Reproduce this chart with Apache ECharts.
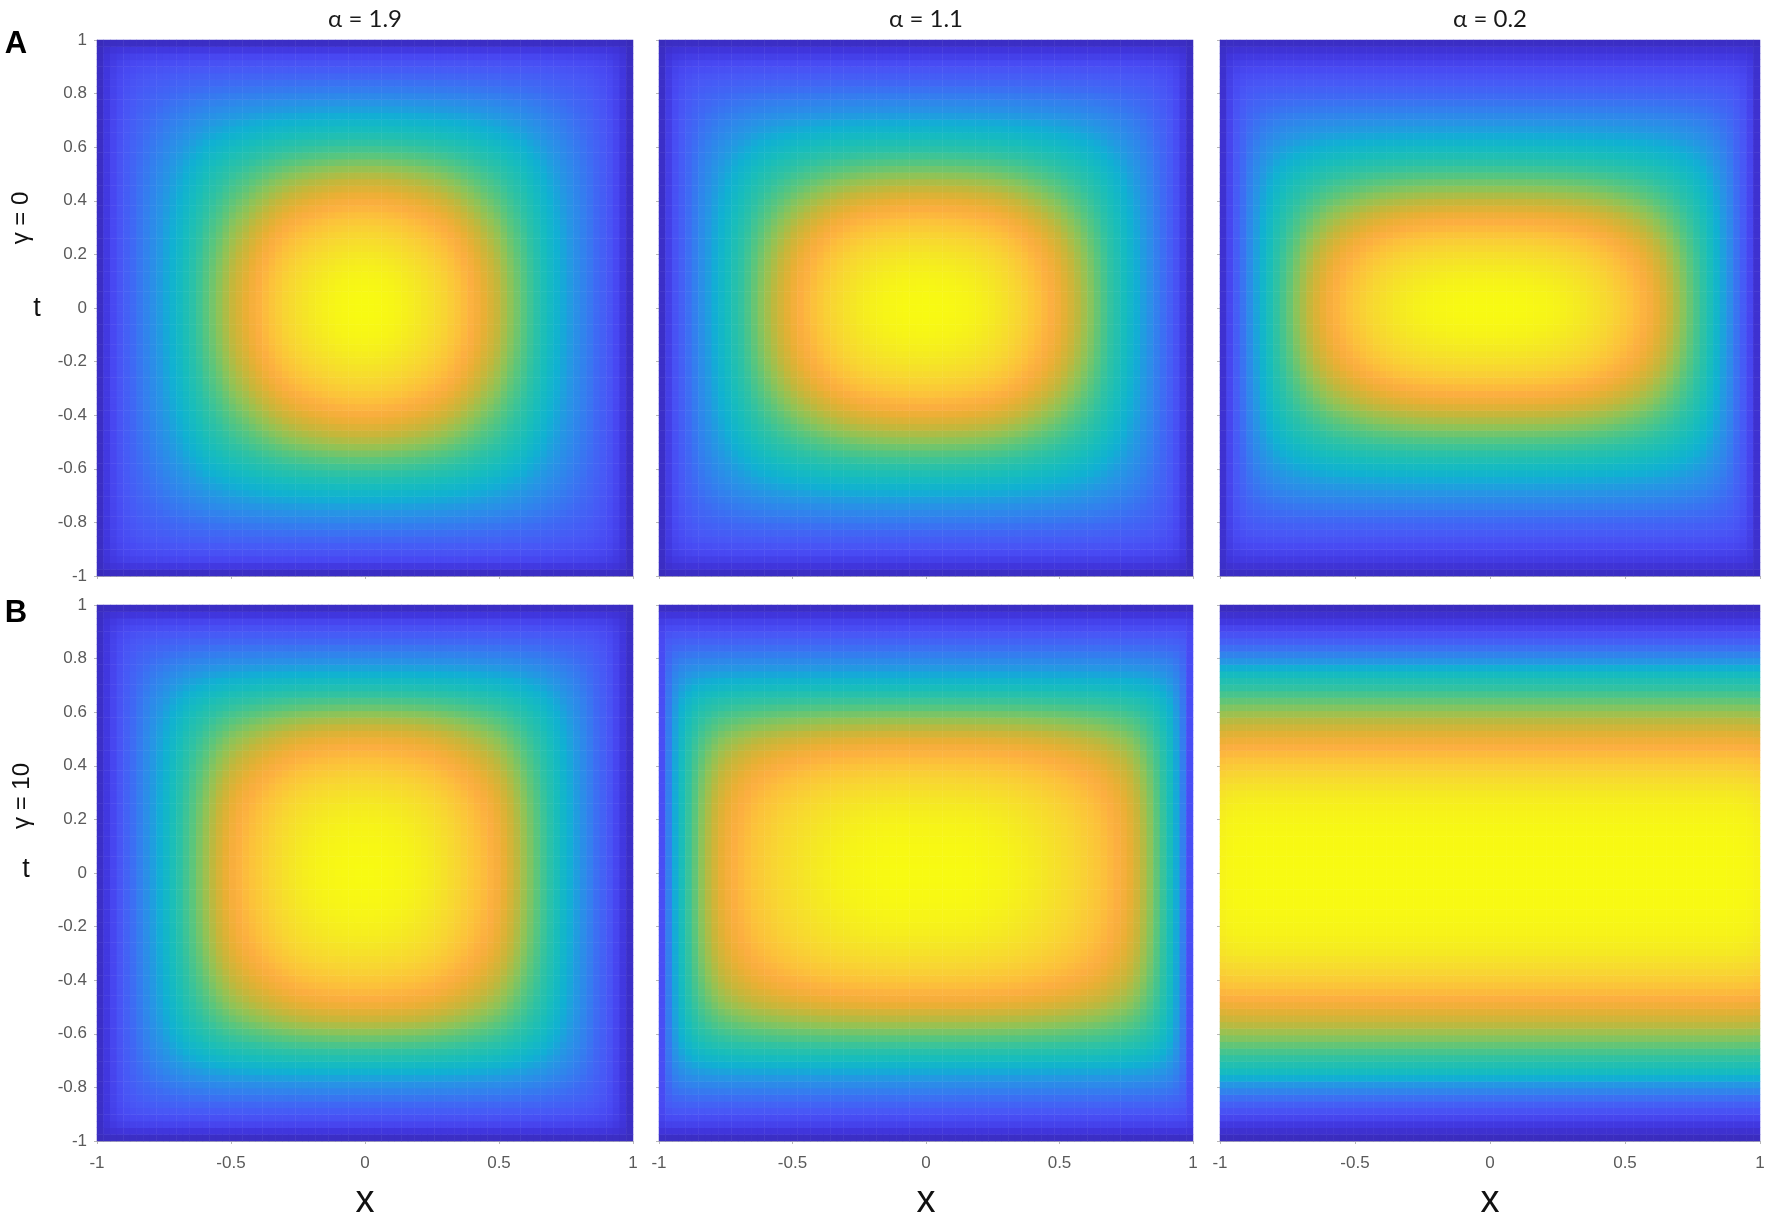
<!DOCTYPE html>
<html><head><meta charset="utf-8">
<script src="https://cdn.jsdelivr.net/npm/echarts@6/dist/echarts.min.js"></script>
<style>html,body{margin:0;padding:0;background:#fff}#c{width:1772px;height:1219px}</style>
</head><body><div id="c"></div>
<script>
// ---- text ----
const alphaTitles = ['α = 1.9', 'α = 1.1', 'α = 0.2'];
const gammaLabels = ['γ = 0', 'γ = 10'];
const panelLetters = ['A', 'B'];
const xTickValues = [-1, -0.5, 0, 0.5, 1];
const tTickValues = [-1, -0.8, -0.6, -0.4, -0.2, 0, 0.2, 0.4, 0.6, 0.8, 1];

// ---- values ----
// normalised field value along the axes, sampled at |x| (or |t|) = 0, 0.025, 0.050, ... 1.000
const A1_x = [1.0,.999,.995,.988,.98,.968,.955,.94,.925,.908,.89,.87,.85,.825,.80,.775,.75,.725,.70,.678,.655,.628,.60,.575,.55,.52,.49,.462,.435,.41,.385,.36,.335,.31,.285,.255,.225,.19,.15,.105,.05];
const A1_t = [1.0,.999,.995,.988,.98,.968,.955,.938,.92,.9,.88,.858,.835,.81,.785,.76,.735,.71,.685,.66,.635,.608,.58,.553,.525,.498,.47,.445,.42,.395,.37,.345,.32,.295,.27,.243,.215,.185,.15,.105,.05];
const A2_x = [1.0,.999,.997,.993,.988,.982,.975,.966,.955,.943,.93,.913,.895,.875,.855,.833,.81,.788,.765,.743,.72,.695,.67,.645,.62,.593,.565,.535,.505,.478,.45,.423,.395,.365,.335,.30,.265,.225,.18,.12,.055];
const A2_t = [1.0,.998,.993,.985,.975,.963,.95,.933,.915,.893,.87,.845,.82,.793,.765,.738,.71,.683,.655,.628,.60,.573,.545,.518,.49,.465,.44,.415,.39,.365,.34,.318,.295,.27,.245,.218,.19,.16,.125,.09,.05];
const A3_x = [1.0,1.0,1.0,.999,.997,.994,.99,.985,.98,.973,.965,.955,.945,.933,.92,.905,.89,.873,.855,.835,.815,.795,.775,.753,.73,.705,.68,.653,.625,.595,.565,.533,.50,.46,.42,.375,.33,.275,.215,.145,.07];
const A3_t = [1.0,.997,.99,.978,.965,.948,.93,.908,.885,.858,.83,.80,.77,.743,.715,.685,.655,.628,.60,.573,.545,.518,.49,.465,.44,.415,.39,.368,.345,.323,.30,.278,.255,.233,.21,.185,.16,.135,.11,.08,.05];
const B1_x = [1.0,.999,.997,.993,.988,.982,.975,.966,.955,.943,.93,.913,.895,.875,.855,.835,.815,.795,.775,.753,.73,.703,.675,.645,.615,.585,.555,.523,.49,.458,.425,.395,.365,.333,.30,.265,.23,.19,.145,.10,.055];
const B1_t = [1.0,.999,.997,.993,.988,.982,.975,.966,.955,.943,.93,.913,.895,.875,.855,.833,.81,.788,.765,.74,.715,.688,.66,.63,.60,.568,.535,.503,.47,.438,.405,.373,.34,.31,.28,.248,.215,.178,.14,.095,.05];
const B2_x = [1.0,1.0,1.0,1.0,1.0,.999,.997,.994,.99,.985,.98,.974,.968,.961,.953,.944,.935,.924,.913,.902,.89,.878,.865,.85,.835,.82,.805,.785,.765,.745,.725,.70,.67,.637,.60,.558,.51,.455,.39,.30,.17];
const B2_t = [1.0,.999,.997,.994,.99,.984,.977,.968,.957,.944,.93,.912,.893,.873,.852,.829,.805,.78,.755,.728,.70,.67,.64,.61,.58,.548,.515,.483,.45,.418,.385,.355,.325,.295,.265,.233,.20,.165,.13,.09,.05];
const B3_x = [1,1,1,1,1,1,1,1,1,1,1,1,1,1,1,1,1,1,1,1,1,1,1,1,1,1,1,1,1,1,1,1,1,1,1,1,.997,.995,.992,.985,.97];
const B3_t = [1.0,1.0,1.0,.999,.997,.994,.99,.984,.977,.967,.955,.941,.925,.90,.875,.85,.825,.798,.77,.743,.715,.69,.665,.64,.615,.588,.56,.53,.50,.47,.44,.395,.35,.308,.265,.223,.18,.14,.10,.07,.04];

const panels = [
  {fx: A1_x, gt: A1_t, row: 0, col: 0},
  {fx: A2_x, gt: A2_t, row: 0, col: 1},
  {fx: A3_x, gt: A3_t, row: 0, col: 2},
  {fx: B1_x, gt: B1_t, row: 1, col: 0},
  {fx: B2_x, gt: B2_t, row: 1, col: 1},
  {fx: B3_x, gt: B3_t, row: 1, col: 2}
];

// ---- style ----
const colorStops = [
  [0.00,'#33279a'],[0.04,'#3a2cbf'],[0.09,'#4035dc'],[0.15,'#4848f2'],[0.20,'#4858f6'],
  [0.25,'#3f68f4'],[0.30,'#3380ee'],[0.35,'#2596e4'],[0.40,'#10b1d2'],[0.45,'#18bdbb'],
  [0.50,'#30c2a2'],[0.55,'#58c67e'],[0.60,'#90c356'],[0.65,'#c4b73a'],[0.70,'#eaaf34'],
  [0.74,'#fcae40'],[0.79,'#fcc23a'],[0.85,'#f8d532'],[0.91,'#f5e526'],[0.96,'#f6f21a'],[1.00,'#f8fa12']
];
const cornerExponent = [1.8, 2.0, 2.2, 2.2, 3.0, 3.0];
const colLeft = [97, 659, 1220], colWidth = [536, 534, 540];
const rowTop = [40, 605], rowHeight = 536;

function hex(c) { return [1, 3, 5].map(k => parseInt(c.substr(k, 2), 16)); }
function colorAt(v) {
  for (let k = 1; k < colorStops.length; k++) {
    if (v <= colorStops[k][0]) {
      const [p0, c0] = colorStops[k - 1], [p1, c1] = colorStops[k];
      const a = (v - p0) / (p1 - p0), A = hex(c0), B = hex(c1);
      return 'rgb(' + A.map((x, i) => Math.round(x + (B[i] - x) * a)).join(',') + ')';
    }
  }
  return colorStops[colorStops.length - 1][1];
}
const paletteSteps = [];
for (let i = 0; i <= 100; i++) paletteSteps.push(colorAt(i / 100));

const H = A1_x.length - 1;     // 40
const N = 2 * H + 1;           // 81 samples from -1 to 1
const cats = [];
for (let i = 0; i < N; i++) cats.push((-1 + i / H).toFixed(3));
function mirror(half) { const out = []; for (let i = 0; i < N; i++) out.push(half[Math.abs(i - H)]); return out; }
function combine(f, g, p) { return Math.pow(Math.pow(f, -p) + Math.pow(g, -p) - 1, -1 / p); }

const grid = [], xAxis = [], yAxis = [], series = [];
const tickFont = {color: '#5a5a5a', fontSize: 17, fontFamily: 'Liberation Sans'};
const edge = {color: '#b8b8b8', width: 1};
panels.forEach((p, k) => {
  grid.push({left: colLeft[p.col], top: rowTop[p.row], width: colWidth[p.col], height: rowHeight});
  xAxis.push({type: 'category', gridIndex: k, data: cats, show: false, position: 'top'});
  xAxis.push({type: 'value', gridIndex: k, min: -1, max: 1, interval: 0.5, position: 'bottom',
    axisLine: {show: true, lineStyle: edge},
    axisTick: {show: true, length: 3, lineStyle: edge},
    splitLine: {show: false},
    axisLabel: Object.assign({show: p.row === 1, margin: 14, formatter: v => String(+v.toFixed(1))}, tickFont)});
  yAxis.push({type: 'category', gridIndex: k, data: cats, show: false, position: 'right'});
  yAxis.push({type: 'value', gridIndex: k, min: -1, max: 1, interval: 0.2, position: 'left',
    axisLine: {show: true, lineStyle: edge},
    axisTick: {show: true, length: 3, lineStyle: edge},
    splitLine: {show: false},
    axisLabel: Object.assign({show: p.col === 0, margin: 10, formatter: v => String(+v.toFixed(1))}, tickFont)});
  const fx = mirror(p.fx), gt = mirror(p.gt);
  const data = [];
  for (let i = 0; i < N; i++) for (let j = 0; j < N; j++) data.push([i, j, combine(fx[i], gt[j], cornerExponent[k])]);
  series.push({type: 'heatmap', xAxisIndex: 2 * k, yAxisIndex: 2 * k, data: data, progressive: 0,
    itemStyle: {borderWidth: 0}, emphasis: {disabled: true}, silent: true});
});

const graphic = [];
alphaTitles.forEach((t, c) => graphic.push({type: 'text', x: colLeft[c] + colWidth[c] / 2, y: 19,
  style: {text: t, fontSize: 24, fontFamily: 'Lato', fill: '#1a1a1a', align: 'center', verticalAlign: 'middle'}}));
colLeft.forEach((l, c) => graphic.push({type: 'text', x: l + colWidth[c] / 2, y: 1202,
  style: {text: 'x', fontSize: 38, fontFamily: 'Liberation Sans', fill: '#111', align: 'center', verticalAlign: 'middle'}}));
const gammaPos = [[21, 218], [22, 796]];
const tPos = [[37, 309], [26, 870]];
const letterPos = [[16, 44], [16, 613]];
gammaLabels.forEach((g, r) => {
  graphic.push({type: 'text', x: gammaPos[r][0], y: gammaPos[r][1], rotation: Math.PI / 2,
    style: {text: g, fontSize: 24, fontFamily: 'Liberation Sans', fill: '#111', align: 'center', verticalAlign: 'middle'}});
  graphic.push({type: 'text', x: tPos[r][0], y: tPos[r][1],
    style: {text: 't', fontSize: 27, fontFamily: 'Liberation Sans', fill: '#111', align: 'center', verticalAlign: 'middle'}});
  graphic.push({type: 'text', x: letterPos[r][0], y: letterPos[r][1],
    style: {text: panelLetters[r], fontSize: 31, fontWeight: 'bold', fontFamily: 'Liberation Sans', fill: '#000', align: 'center', verticalAlign: 'middle'}});
});

const chart = echarts.init(document.getElementById('c'), null, {renderer: 'canvas'});
chart.setOption({
  animation: false,
  backgroundColor: '#ffffff',
  grid, xAxis, yAxis, series, graphic,
  visualMap: {show: false, type: 'continuous', min: 0, max: 1, dimension: 2,
    seriesIndex: [0, 1, 2, 3, 4, 5], inRange: {color: paletteSteps}}
});
</script></body></html>
